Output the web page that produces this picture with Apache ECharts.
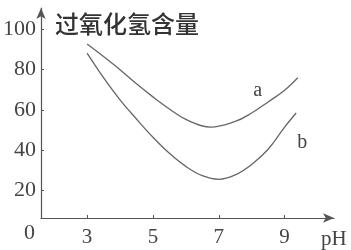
<!DOCTYPE html>
<html>
<head>
<meta charset="utf-8">
<script src="https://cdn.jsdelivr.net/npm/echarts@6/dist/echarts.min.js"></script>
<style>html,body{margin:0;padding:0;background:#fff}#c{width:351px;height:250px}</style>
</head>
<body>
<div id="c"></div>
<script>
var yTitle = '过氧化氢含量';
var xName = 'pH';
var xTicks = [3, 5, 7, 9];
var yTicks = [20, 40, 60, 80, 100];
var phA = [3.0, 3.5, 4.0, 4.5, 5.0, 5.5, 6.0, 6.75, 7.5, 8.0, 8.5, 9.0, 9.4];
var valA = [92.7, 86.5, 80, 73, 66.5, 60.5, 55.3, 51.5, 54.3, 58.5, 64, 69.8, 76];
var phB = [3.0, 3.5, 4.0, 4.5, 5.0, 5.5, 6.0, 6.5, 7.0, 7.5, 8.0, 8.5, 9.0, 9.35];
var valB = [88.2, 76, 65, 55.5, 46.5, 38.5, 32, 27.4, 25.6, 27.8, 33, 40.5, 51.5, 58.5];

var axisColor = '#555';
var textColor = '#444';
var serif = '"Liberation Serif", "DejaVu Serif", serif';

function pairs(xs, ys) { return xs.map(function (x, i) { return [x, ys[i]]; }); }

var chart = echarts.init(document.getElementById('c'), null, {renderer: 'canvas'});
chart.setOption({
  animation: false,
  backgroundColor: '#fff',
  grid: {left: 41, right: 17, top: 8, bottom: 31, containLabel: false},
  xAxis: {
    type: 'value', min: 1.6, max: 10.5,
    axisLine: {show: true, onZero: false, lineStyle: {color: axisColor, width: 1.2}, symbol: ['none', 'arrow'], symbolSize: [7, 11]},
    axisTick: {show: true, inside: true, length: 3, customValues: xTicks, lineStyle: {color: axisColor}},
    axisLabel: {customValues: xTicks, color: textColor, fontFamily: serif, fontSize: 21, margin: 9},
    splitLine: {show: false},
    name: xName, nameLocation: 'end', nameGap: -13,
    nameTextStyle: {color: textColor, fontFamily: serif, fontSize: 21, verticalAlign: 'top', align: 'left', padding: [11, 0, 0, 0]}
  },
  yAxis: {
    type: 'value', min: 6.4, max: 110.6,
    axisLine: {show: true, onZero: false, lineStyle: {color: axisColor, width: 1.2}, symbol: ['none', 'arrow'], symbolSize: [7, 11]},
    axisTick: {show: true, inside: true, length: 3, customValues: yTicks, lineStyle: {color: axisColor}},
    axisLabel: {customValues: yTicks, color: textColor, fontFamily: serif, fontSize: 22, margin: 5, padding: [4, 0, 0, 0]},
    splitLine: {show: false},
    name: yTitle, nameLocation: 'end', nameGap: -4,
    nameTextStyle: {color: '#333', fontFamily: '"Noto Sans CJK SC", sans-serif', fontSize: 24, fontWeight: 500, align: 'left', verticalAlign: 'top', padding: [0, 0, 0, 14]}
  },
  graphic: [{
    type: 'text', left: 24, top: 222,
    style: {text: '0', fill: textColor, font: '22px ' + serif}
  }],
  series: [{
    name: 'a', type: 'line', smooth: 0.4, symbol: 'none',
    data: pairs(phA, valA),
    lineStyle: {color: '#666', width: 1.3},
    endLabel: {show: true, formatter: '{a}', color: textColor, fontFamily: serif, fontSize: 20, align: 'center', offset: [-48, 13]}
  }, {
    name: 'b', type: 'line', smooth: 0.4, symbol: 'none',
    data: pairs(phB, valB),
    lineStyle: {color: '#666', width: 1.3},
    endLabel: {show: true, formatter: '{a}', color: textColor, fontFamily: serif, fontSize: 20, align: 'center', offset: [-2, 30]}
  }]
});
</script>
</body>
</html>
